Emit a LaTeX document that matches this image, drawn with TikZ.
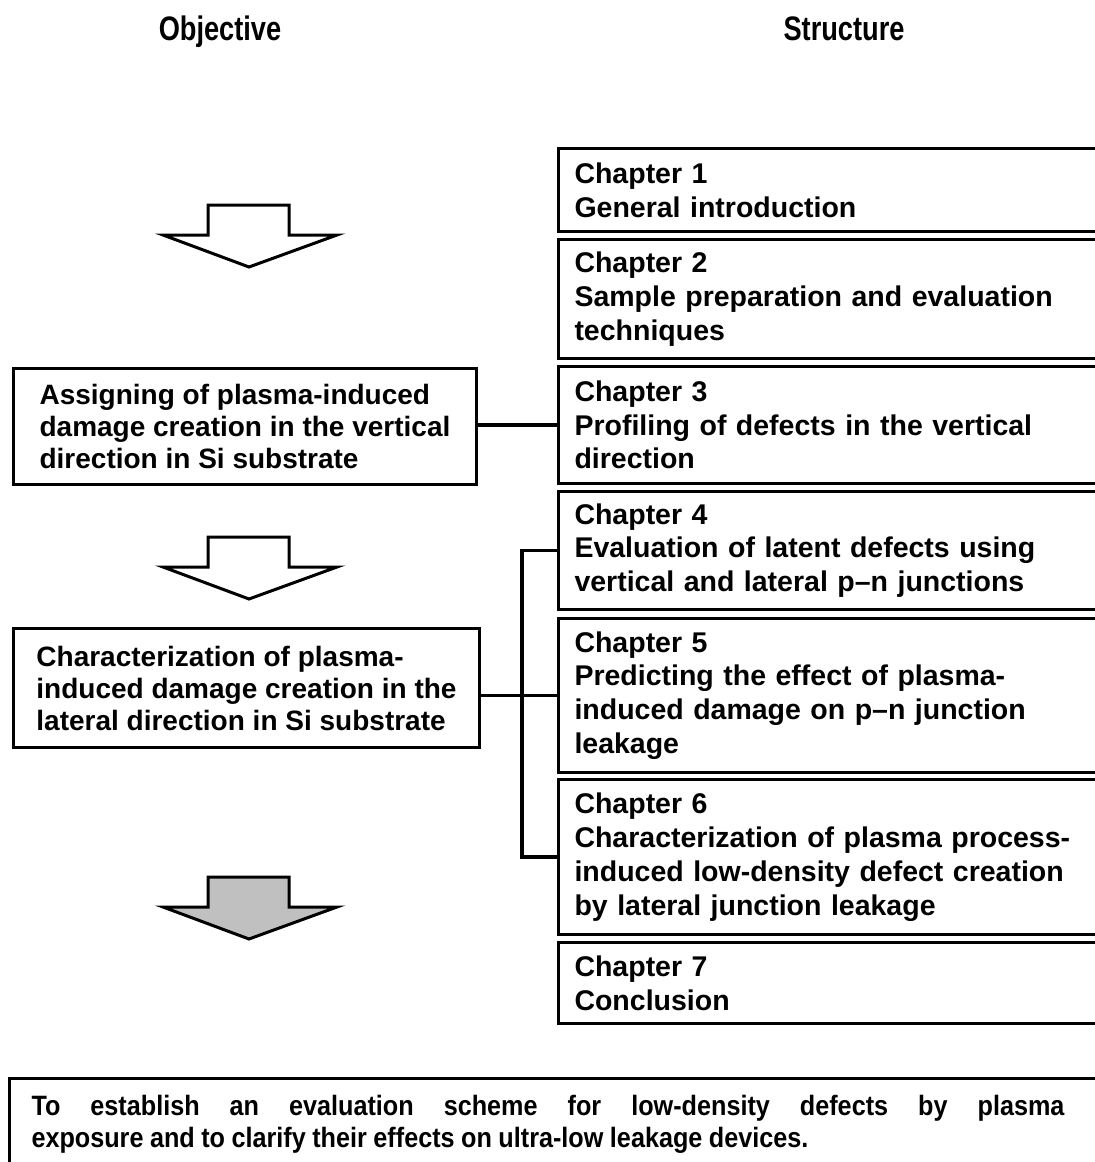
\documentclass[tikz,border=0pt]{standalone}
\usepackage{fontspec}
\setmainfont{Liberation Sans}
\begin{document}
\begin{tikzpicture}[x=1pt,y=-1pt,
  title/.style={anchor=base, font=\bfseries\fontsize{34}{38}\selectfont\addfontfeature{FakeStretch=0.8}},
  chapbox/.style={draw, line width=3pt, anchor=north west, inner xsep=16pt,
    inner ysep=4pt, text width=521pt, minimum width=553pt, align=left,
    font=\bfseries\fontsize{28.5}{33.8}\selectfont},
  objbox/.style={draw, line width=3pt, anchor=north west, inner sep=4pt,
    align=left, font=\bfseries\fontsize{28}{32}\selectfont},
  goalbox/.style={draw, line width=3pt, anchor=north west, inner xsep=22pt,
    inner ysep=17pt, text width=1100pt, align=left},
  connector/.style={draw, line width=3.2pt},
  bigarrow/.style={draw, line width=3pt, line join=miter, fill=white},
]
\clip (0,0) rectangle (1095,1162);

% column headings
\node[title] (hobj) at (220,40) {Objective};
\node[title] (hstr) at (844,40) {Structure};

% chapter boxes
\node[chapbox, minimum height=83pt]  (c1) at (557,147) {Chapter 1\\General introduction};
\node[chapbox, minimum height=119pt] (c2) at (557,238) {Chapter 2\\Sample preparation and evaluation\\techniques};
\node[chapbox, minimum height=117pt] (c3) at (557,365) {Chapter 3\\Profiling of defects in the vertical\\direction};
\node[chapbox, minimum height=118pt] (c4) at (557,490) {Chapter 4\\Evaluation of latent defects using\\vertical and lateral p–n junctions};
\node[chapbox, minimum height=154pt] (c5) at (557,617) {Chapter 5\\Predicting the effect of plasma-\\induced damage on p–n junction\\leakage};
\node[chapbox, minimum height=155pt] (c6) at (557,778) {Chapter 6\\Characterization of plasma process-\\induced low-density defect creation\\by lateral junction leakage};
\node[chapbox, minimum height=81pt]  (c7) at (557,941) {Chapter 7\\Conclusion};

% objective boxes
\node[objbox, minimum width=463pt, minimum height=116pt] (oa) at (12,367)
  {Assigning of plasma-induced\\damage creation in the vertical\\direction in Si substrate};
\node[objbox, minimum width=466pt, minimum height=119pt] (ob) at (12,627)
  {Characterization of plasma-\\induced damage creation in the\\lateral direction in Si substrate};

% connectors
\coordinate (bus) at (522,0);
\draw[connector] (c3.west) -- (c3.west -| oa.east);
\draw[connector] (c5.west) -- (c5.west -| ob.east);
\draw[connector] (c4.west) -| (bus |- c5.west) |- (c6.west);

% block arrows
\draw[bigarrow] (208,205) -- (289,205) -- (289,235) -- (337,235) -- (249,267)
  -- (163,235) -- (208,235) -- cycle;
\draw[bigarrow] (208,537) -- (289,537) -- (289,567) -- (337,567) -- (249,599)
  -- (163,567) -- (208,567) -- cycle;
\draw[bigarrow, fill={rgb,255:red,192;green,192;blue,192}] (208,877) -- (289,877)
  -- (289,907) -- (337,907) -- (249,939) -- (163,907) -- (208,907) -- cycle;

% overall goal (first line fully justified)
\node[goalbox] (goal) at (8,1077)
  {\parbox{1033pt}{\bfseries\fontsize{28}{32}\selectfont\addfontfeature{FakeStretch=0.9}%
   \rightskip=0pt\relax\parfillskip=0pt plus 1fil\relax
   \spaceskip=6.5pt plus 200pt minus 1pt\relax
   To establish an evaluation scheme for low-density defects by plasma\linebreak
   exposure and to clarify their effects on ultra-low leakage devices.\par}};
\end{tikzpicture}
\end{document}
